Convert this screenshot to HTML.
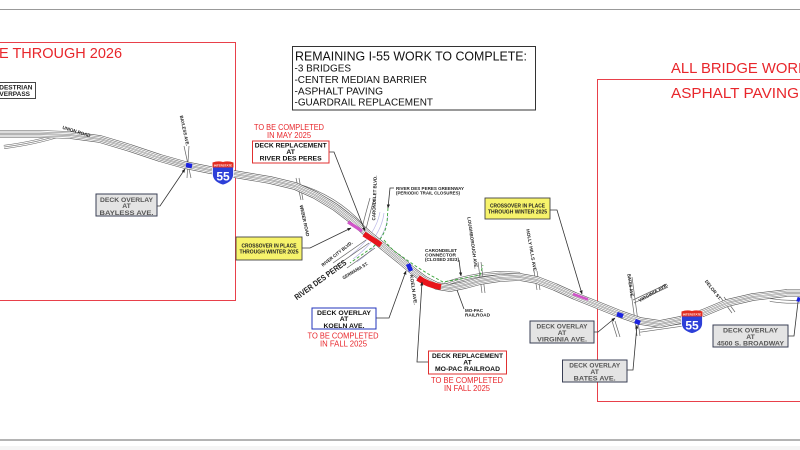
<!DOCTYPE html>
<html><head><meta charset="utf-8"><style>
html,body{margin:0;padding:0;background:#fff;}
svg{display:block;}
text{font-family:"Liberation Sans",Arial,sans-serif;}
</style></head><body>
<svg width="800" height="450" viewBox="0 0 800 450" xmlns="http://www.w3.org/2000/svg">
<defs>
<path id="hw" d="M-5,134 L40,134 L70,135 L100,139 L130,148 L160,158 L185,165 L210,170 L240,175 L270,180 L295,186 L315,195 L335,207 L352,220 L368,234 L385,248 L400,260 L413,271 L425,280 L437,286 L450,288 L465,285 L480,281 L500,278 L520,277 L537,280 L555,287 L575,296 L600,306 L620,314 L640,321 L660,324 L680,320 L703,313 L727,303 L753,297 L787,293 L805,293"/>
<path id="r1" d="M4,147 Q35,143 60,135"/>
<path id="r2" d="M295,185 Q335,196 362,226"/>
<path id="r3" d="M445,284 Q470,275 500,273 L520,274"/>
<path id="r4" d="M150,157 L212,171"/>
<path id="r5" d="M640,331 L682,325"/>
<path id="r6" d="M770,300 Q790,303 805,301"/>
<marker id="ar" viewBox="0 0 10 10" refX="9" refY="5" markerWidth="5" markerHeight="5" orient="auto"><path d="M0,1 L10,5 L0,9 Z" fill="#222"/></marker>
</defs>

<!-- frame lines -->
<line x1="0" y1="9.5" x2="800" y2="9.5" stroke="#999" stroke-width="1"/>
<line x1="0" y1="440" x2="800" y2="440" stroke="#888" stroke-width="1.2"/>
<rect x="0" y="446" width="800" height="4" fill="#f5f5f5"/>

<!-- red area boxes -->
<path d="M-2,42.5 L235.5,42.5 L235.5,300.5 L-2,300.5" fill="none" stroke="#e8404a" stroke-width="1"/>
<path d="M802,79.5 L597.5,79.5 L597.5,401.5 L802,401.5" fill="none" stroke="#e8404a" stroke-width="1"/>
<text x="-1" y="58" font-size="14.5" fill="#e8262b">E THROUGH 2026</text>
<text x="671" y="73" font-size="14.5" fill="#e8262b" textLength="137" lengthAdjust="spacingAndGlyphs">ALL BRIDGE WORK</text>
<text x="671" y="98" font-size="14.5" fill="#e8262b" textLength="128" lengthAdjust="spacingAndGlyphs">ASPHALT PAVING</text>

<!-- lavender river lines -->
<g fill="none" stroke="#b9b6e6" stroke-width="0.7">
<path d="M380,212 Q376,235 350,256"/>
<path d="M384,213 Q381,238 353,259"/>
<path d="M388,216 Q385,242 357,262"/>
</g>

<!-- secondary roads -->
<g fill="none">
<use href="#r1" stroke="#666" stroke-width="4"/><use href="#r1" stroke="#fff" stroke-width="2.8"/><use href="#r1" stroke="#888" stroke-width="0.8"/>
<use href="#r2" stroke="#666" stroke-width="4.5"/><use href="#r2" stroke="#fff" stroke-width="3.2"/><use href="#r2" stroke="#888" stroke-width="0.8"/>
<use href="#r3" stroke="#666" stroke-width="4"/><use href="#r3" stroke="#fff" stroke-width="2.8"/><use href="#r3" stroke="#888" stroke-width="0.8"/>
<use href="#r4" stroke="#666" stroke-width="3"/><use href="#r4" stroke="#fff" stroke-width="1.8"/>
<use href="#r5" stroke="#666" stroke-width="3"/><use href="#r5" stroke="#fff" stroke-width="1.8"/>
<use href="#r6" stroke="#666" stroke-width="3.5"/><use href="#r6" stroke="#fff" stroke-width="2.2"/>
</g>
<!-- cross streets -->
<g fill="none" stroke="#666" stroke-width="0.7">
<path d="M184,146 L191,178 M189,146 L187,178"/>
<path d="M296,178 L301,200 M299,178 L303,200"/>
<path d="M362,228 Q366,212 370,198 M366,229 Q370,213 374,199"/>
<path d="M366,240 L333,263 M369,243 L336,266"/>
<path d="M375,248 L347,268"/>
<path d="M478,262 L482,293 M481,262 L485,293"/>
<path d="M534,271 L537,290 M537,271 L540,290"/>
<path d="M629,277 L637,336 M632,277 L640,336"/>
<path d="M633,300 L667,284 M634,303 L668,287"/>
<path d="M612,321 L617,337 M615,321 L620,337"/>
<path d="M721,298 L732,313 M724,297 L735,312"/>
</g>

<!-- main highway bundle -->
<g fill="none" stroke-linejoin="round">
<use href="#hw" stroke="#555" stroke-width="7.6"/>
<use href="#hw" stroke="#fff" stroke-width="6.4"/>
<use href="#hw" stroke="#777" stroke-width="4.6"/>
<use href="#hw" stroke="#fff" stroke-width="3.5"/>
<use href="#hw" stroke="#888" stroke-width="1.7"/>
<use href="#hw" stroke="#fff" stroke-width="0.6"/>
</g>

<!-- greenway -->
<g fill="none" stroke="#3aa53a" stroke-width="0.9" stroke-dasharray="3,2">
<path d="M388,208 L387,223 Q385,236 373,247 L350,263"/>
<path d="M384,240 Q392,250 397,253 L417,267 L430,275 L443,282 L460,279 L480,275 L483,265"/>
</g>

<!-- pink crossover -->
<path d="M348,222 L362,231" stroke="#d055c8" stroke-width="3.2"/>
<path d="M573,294 L588,299.5" stroke="#d055c8" stroke-width="2.6"/>
<!-- red replacements -->
<path d="M364,234 L381,245" stroke="#e8141c" stroke-width="5.5"/>
<path d="M418,278 Q428,285 441,287" stroke="#e8141c" stroke-width="6"/>
<!-- blue overlays -->
<g stroke="#1a22e0" stroke-width="4.5">
<path d="M186,165 L192,166"/>
<path d="M408,264 L411,271"/>
<path d="M617,314 L623,316"/>
<path d="M635,321 L640,323"/>
<path d="M797,299 L800,300"/>
</g>

<!-- I-55 shields -->
<g transform="translate(212,160)">
<path d="M0.5,2.5 Q6,0.5 11,2 Q16,0.5 21.5,2.5 L21.5,15 Q21,22 11,25 Q1,22 0.5,15 Z" fill="#2d3fd8" stroke="#fff" stroke-width="0.8"/>
<path d="M0.5,2.5 Q6,0.5 11,2 Q16,0.5 21.5,2.5 L21.5,7.5 L0.5,7.5 Z" fill="#e22c20"/>
<text x="11" y="6.3" font-size="3" fill="#fff" text-anchor="middle" font-weight="bold">INTERSTATE</text>
<text x="11" y="20.5" font-size="12" fill="#fff" text-anchor="middle" font-weight="bold">55</text>
</g>
<g transform="translate(681,309)">
<path d="M0.5,2.5 Q6,0.5 11,2 Q16,0.5 21.5,2.5 L21.5,15 Q21,22 11,24.5 Q1,22 0.5,15 Z" fill="#2d3fd8" stroke="#fff" stroke-width="0.8"/>
<path d="M0.5,2.5 Q6,0.5 11,2 Q16,0.5 21.5,2.5 L21.5,7.5 L0.5,7.5 Z" fill="#e22c20"/>
<text x="11" y="6.3" font-size="3" fill="#fff" text-anchor="middle" font-weight="bold">INTERSTATE</text>
<text x="11" y="20.5" font-size="12" fill="#fff" text-anchor="middle" font-weight="bold">55</text>
</g>

<!-- leader lines -->
<g fill="none" stroke="#333" stroke-width="0.8">
<path d="M157,206 L160,206 L185,169" marker-end="url(#ar)"/>
<path d="M329,152 L334,152 L365,231" marker-end="url(#ar)"/>
<path d="M302,248 L310,248 L351,228" marker-end="url(#ar)"/>
<path d="M394,188 L390,188 L388,208" marker-end="url(#ar)"/>
<path d="M376,318 L389,318 L406,271" marker-end="url(#ar)"/>
<path d="M428,362 L417,362 L422,282" marker-end="url(#ar)"/>
<path d="M459,260 L461,276" marker-end="url(#ar)"/>
<path d="M464,309 L457,290"/>
<path d="M550,210 L557,210 L582,294" marker-end="url(#ar)"/>
<path d="M594,332 L598,332 L615,318" marker-end="url(#ar)"/>
<path d="M627,370 L633,370 L637,325" marker-end="url(#ar)"/>
<path d="M788,336 L794,336 L798,302"/>
</g>

<!-- info box -->
<rect x="292.5" y="46.5" width="243" height="63.5" fill="#fff" stroke="#333" stroke-width="1"/>
<text x="295" y="60.7" font-size="13" fill="#111" textLength="232" lengthAdjust="spacingAndGlyphs">REMAINING I-55 WORK TO COMPLETE:</text>
<text x="294.5" y="71.6" font-size="10" fill="#111" textLength="56.5" lengthAdjust="spacingAndGlyphs">-3 BRIDGES</text>
<text x="294.5" y="83" font-size="10" fill="#111" textLength="132.5" lengthAdjust="spacingAndGlyphs">-CENTER MEDIAN BARRIER</text>
<text x="294.5" y="94.4" font-size="10" fill="#111" textLength="88.5" lengthAdjust="spacingAndGlyphs">-ASPHALT PAVING</text>
<text x="294.5" y="105.5" font-size="10" fill="#111" textLength="138.5" lengthAdjust="spacingAndGlyphs">-GUARDRAIL REPLACEMENT</text>

<!-- pedestrian overpass -->
<rect x="-5" y="82.5" width="40.5" height="16" fill="#fff" stroke="#333" stroke-width="0.9"/>
<text x="32.5" y="89.5" font-size="6.5" font-weight="bold" fill="#222" text-anchor="end">PEDESTRIAN</text>
<text x="30" y="96" font-size="6.5" font-weight="bold" fill="#222" text-anchor="end">OVERPASS</text>

<!-- gray callouts -->
<g font-weight="bold" fill="#555" font-size="6.8" text-anchor="middle">
<rect x="96" y="194" width="61" height="22" fill="#e4e4e4" stroke="#3a3f55" stroke-width="1"/>
<text x="126.5" y="201.8" textLength="53" lengthAdjust="spacingAndGlyphs">DECK OVERLAY</text>
<text x="126.5" y="208.2">AT</text>
<text x="126.5" y="214.8" textLength="54" lengthAdjust="spacingAndGlyphs">BAYLESS AVE.</text>

<rect x="530" y="321" width="64" height="22" fill="#e4e4e4" stroke="#3a3f55" stroke-width="1"/>
<text x="562" y="328.4" textLength="51" lengthAdjust="spacingAndGlyphs">DECK OVERLAY</text>
<text x="562" y="334.8">AT</text>
<text x="562" y="341.3" textLength="50" lengthAdjust="spacingAndGlyphs">VIRGINIA AVE.</text>

<rect x="562.5" y="360" width="64.5" height="22" fill="#e4e4e4" stroke="#3a3f55" stroke-width="1"/>
<text x="594.7" y="367.4" textLength="51" lengthAdjust="spacingAndGlyphs">DECK OVERLAY</text>
<text x="594.7" y="373.8">AT</text>
<text x="594.7" y="380.3" textLength="42" lengthAdjust="spacingAndGlyphs">BATES AVE.</text>

<rect x="713" y="325" width="75" height="22" fill="#e4e4e4" stroke="#3a3f55" stroke-width="1"/>
<text x="750.5" y="332.4" textLength="55" lengthAdjust="spacingAndGlyphs">DECK OVERLAY</text>
<text x="750.5" y="338.8">AT</text>
<text x="750.5" y="345.3" textLength="67" lengthAdjust="spacingAndGlyphs">4500 S. BROADWAY</text>
</g>

<!-- koeln callout -->
<g font-weight="bold" fill="#111" font-size="6.8" text-anchor="middle">
<rect x="312" y="308" width="64" height="21" fill="#fff" stroke="#2233bb" stroke-width="1"/>
<text x="344" y="314.8" textLength="54" lengthAdjust="spacingAndGlyphs">DECK OVERLAY</text>
<text x="344" y="321.1">AT</text>
<text x="344" y="327.8" textLength="41" lengthAdjust="spacingAndGlyphs">KOELN AVE.</text>

<rect x="428.5" y="351" width="78" height="23" fill="#fff" stroke="#e03030" stroke-width="1"/>
<text x="467.5" y="358" textLength="71" lengthAdjust="spacingAndGlyphs">DECK REPLACEMENT</text>
<text x="467.5" y="364.4">AT</text>
<text x="467.5" y="371" textLength="65" lengthAdjust="spacingAndGlyphs">MO-PAC RAILROAD</text>

<rect x="252.5" y="141" width="76.5" height="22" fill="#fff" stroke="#e03030" stroke-width="1"/>
<text x="290.7" y="147.6" textLength="72" lengthAdjust="spacingAndGlyphs">DECK REPLACEMENT</text>
<text x="290.7" y="154">AT</text>
<text x="290.7" y="160.6" textLength="62" lengthAdjust="spacingAndGlyphs">RIVER DES PERES</text>
</g>

<!-- red completion text -->
<g fill="#e8262b" font-size="8" text-anchor="middle">
<text x="289" y="130.2" textLength="70" lengthAdjust="spacingAndGlyphs">TO BE COMPLETED</text>
<text x="289" y="138.2" textLength="44" lengthAdjust="spacingAndGlyphs">IN MAY 2025</text>
<text x="343" y="338.5" textLength="71" lengthAdjust="spacingAndGlyphs">TO BE COMPLETED</text>
<text x="343.5" y="346.5" textLength="47" lengthAdjust="spacingAndGlyphs">IN FALL 2025</text>
<text x="467" y="383" textLength="72" lengthAdjust="spacingAndGlyphs">TO BE COMPLETED</text>
<text x="467" y="391" textLength="46" lengthAdjust="spacingAndGlyphs">IN FALL 2025</text>
</g>

<!-- yellow crossover boxes -->
<g font-weight="bold" fill="#222" font-size="5.5" text-anchor="middle">
<rect x="236" y="237" width="66" height="23" fill="#f7f36b" stroke="#444" stroke-width="0.9"/>
<text x="269" y="247.6" textLength="55" lengthAdjust="spacingAndGlyphs">CROSSOVER IN PLACE</text>
<text x="269" y="253.6" textLength="59" lengthAdjust="spacingAndGlyphs">THROUGH WINTER 2025</text>
<rect x="485" y="198" width="65" height="21" fill="#f7f36b" stroke="#444" stroke-width="0.9"/>
<text x="517.5" y="207.7" textLength="55" lengthAdjust="spacingAndGlyphs">CROSSOVER IN PLACE</text>
<text x="517.5" y="213.7" textLength="59" lengthAdjust="spacingAndGlyphs">THROUGH WINTER 2025</text>
</g>

<!-- street labels -->
<g font-weight="bold" fill="#222" font-size="4.6" text-anchor="middle">
<text transform="translate(76,133) rotate(17)" textLength="29" lengthAdjust="spacingAndGlyphs">UNION ROAD</text>
<text transform="translate(183,131) rotate(78)" textLength="31" lengthAdjust="spacingAndGlyphs">BAYLESS AVE.</text>
<text transform="translate(303,221) rotate(78)" textLength="32" lengthAdjust="spacingAndGlyphs">WEBER ROAD</text>
<text transform="translate(376,198) rotate(-88)" textLength="45" lengthAdjust="spacingAndGlyphs">CARONDELET BLVD.</text>
<text transform="translate(338,255) rotate(-38)" textLength="38" lengthAdjust="spacingAndGlyphs">RIVER CITY BLVD.</text>
<text transform="translate(356,272) rotate(-31)" textLength="29" lengthAdjust="spacingAndGlyphs">GERMANIA ST.</text>
<text transform="translate(412,290) rotate(82)" textLength="30" lengthAdjust="spacingAndGlyphs">KOELN AVE.</text>
<text transform="translate(471,243) rotate(82)" textLength="52" lengthAdjust="spacingAndGlyphs">LOUGHBOROUGH AVE.</text>
<text transform="translate(530,251) rotate(80)" textLength="44" lengthAdjust="spacingAndGlyphs">HOLLY HILLS AVE.</text>
<text transform="translate(629,286) rotate(82)" textLength="24" lengthAdjust="spacingAndGlyphs">BATES AVE.</text>
<text transform="translate(654,294) rotate(-30)" textLength="33" lengthAdjust="spacingAndGlyphs">VIRGINIA AVE.</text>
<text transform="translate(712,291) rotate(52)" textLength="24" lengthAdjust="spacingAndGlyphs">DELOR ST.</text>
</g>
<g font-weight="bold" fill="#222" font-size="4.6">
<text x="396" y="190" textLength="68" lengthAdjust="spacingAndGlyphs">RIVER DES PERES GREENWAY</text>
<text x="396" y="194.5" textLength="64" lengthAdjust="spacingAndGlyphs">(PERIODIC TRAIL CLOSURES)</text>
<text x="425" y="252" textLength="32" lengthAdjust="spacingAndGlyphs">CARONDELET</text>
<text x="425" y="256.4" textLength="31" lengthAdjust="spacingAndGlyphs">CONNECTOR</text>
<text x="425" y="260.8" textLength="34" lengthAdjust="spacingAndGlyphs">(CLOSED 2023)</text>
<text x="465" y="312" textLength="18" lengthAdjust="spacingAndGlyphs">MO-PAC</text>
<text x="465" y="316.4" textLength="25" lengthAdjust="spacingAndGlyphs">RAILROAD</text>
</g>
<text transform="translate(322,282) rotate(-36)" font-size="8" font-weight="bold" fill="#222" text-anchor="middle" textLength="62" lengthAdjust="spacingAndGlyphs">RIVER DES PERES</text>
</svg>
</body></html>
